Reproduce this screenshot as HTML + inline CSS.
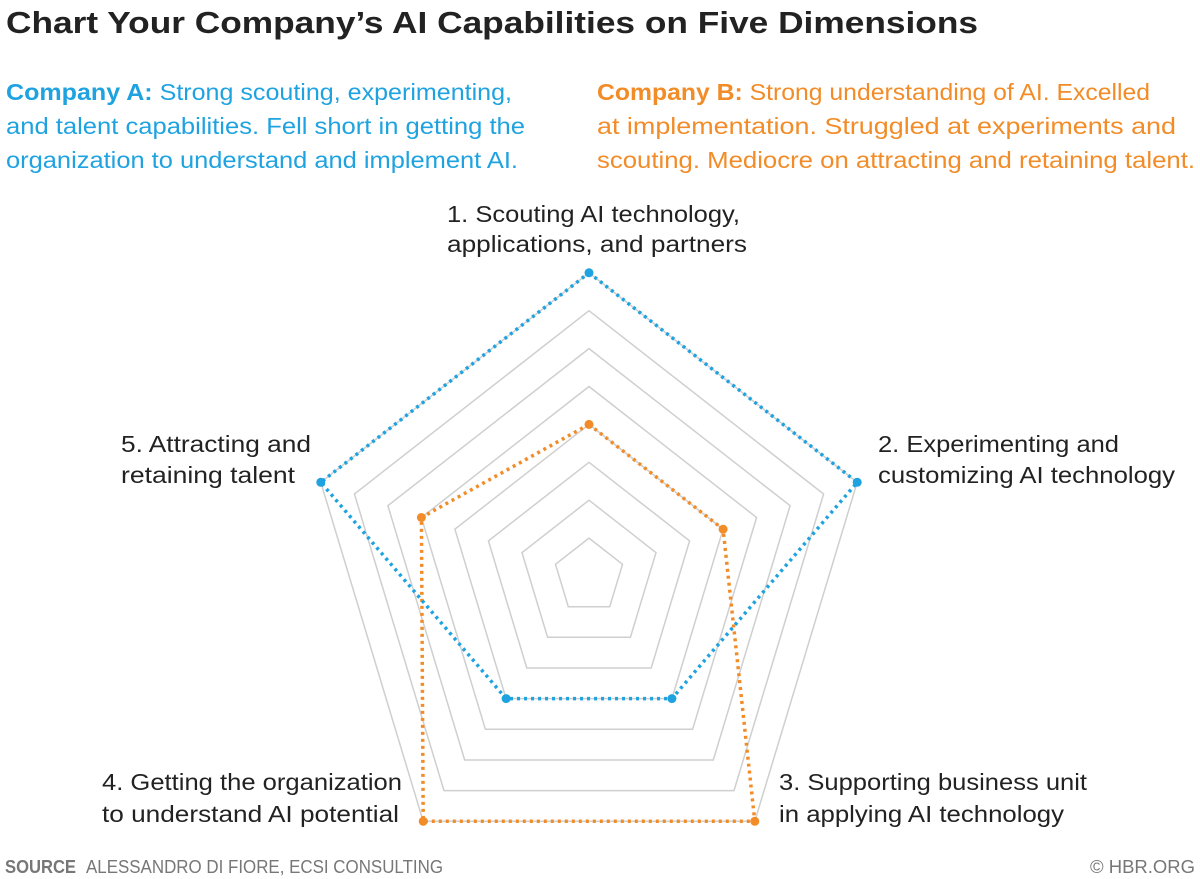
<!DOCTYPE html>
<html><head><meta charset="utf-8"><style>
html,body{margin:0;padding:0;background:#fff;}
svg{display:block;}
text{font-family:"Liberation Sans",sans-serif;}
</style></head><body>
<svg width="1200" height="879" viewBox="0 0 1200 879" xmlns="http://www.w3.org/2000/svg">
<rect width="1200" height="879" fill="#fff"/>
<text x="6" y="33" font-size="31" font-weight="bold" fill="#222" textLength="972" lengthAdjust="spacingAndGlyphs">Chart Your Company’s AI Capabilities on Five Dimensions</text>
<g font-size="23" fill="#1fa3e0">
<text x="6" y="100" textLength="506" lengthAdjust="spacingAndGlyphs"><tspan font-weight="bold">Company A:</tspan> Strong scouting, experimenting,</text>
<text x="6" y="134" textLength="519" lengthAdjust="spacingAndGlyphs">and talent capabilities. Fell short in getting the</text>
<text x="6" y="168" textLength="512" lengthAdjust="spacingAndGlyphs">organization to understand and implement AI.</text>
</g>
<g font-size="23" fill="#f28c28">
<text x="597" y="100" textLength="553" lengthAdjust="spacingAndGlyphs"><tspan font-weight="bold">Company B:</tspan> Strong understanding of AI. Excelled</text>
<text x="597" y="134" textLength="579" lengthAdjust="spacingAndGlyphs">at implementation. Struggled at experiments and</text>
<text x="597" y="168" textLength="598" lengthAdjust="spacingAndGlyphs">scouting. Mediocre on attracting and retaining talent.</text>
</g>
<g fill="none" stroke="#cfcfcf" stroke-width="1.5">
<polygon points="589,538.1 622.5,564.3 609.7,606.7 568.3,606.7 555.5,564.3"/>
<polygon points="589,500.2 656,552.6 630.4,637.3 547.6,637.3 522,552.6"/>
<polygon points="589,462.3 689.6,540.9 651.2,668 526.8,668 488.4,540.9"/>
<polygon points="589,424.4 723.1,529.2 671.9,698.6 506.1,698.6 454.9,529.2"/>
<polygon points="589,386.5 756.6,517.5 692.6,729.3 485.4,729.3 421.4,517.5"/>
<polygon points="589,348.6 790.1,505.7 713.3,760 464.7,760 387.9,505.7"/>
<polygon points="589,310.7 823.6,494 734,790.6 444,790.6 354.4,494"/>
<polygon points="589,272.8 857.2,482.3 754.8,821.3 423.2,821.3 320.8,482.3"/>
</g>
<polygon points="589,424.4 723.1,529.2 754.8,821.3 423.2,821.3 421.4,517.5" fill="none" stroke="#f28c28" stroke-width="3.5" stroke-dasharray="3 4"/>
<polygon points="589,272.8 857.2,482.3 671.9,698.6 506.1,698.6 320.8,482.3" fill="none" stroke="#1fa3e0" stroke-width="3.5" stroke-dasharray="3 4"/>
<g fill="#f28c28">
<circle cx="589" cy="424.4" r="4.5"/><circle cx="723.1" cy="512" r="0" /><circle cx="723.1" cy="511" r="0"/>
<circle cx="723.1" cy="529.2" r="4.5"/><circle cx="754.8" cy="821.3" r="4.5"/><circle cx="423.2" cy="821.3" r="4.5"/><circle cx="421.4" cy="517.5" r="4.5"/>
</g>
<g fill="#1fa3e0">
<circle cx="589" cy="272.8" r="4.5"/><circle cx="857.2" cy="482.3" r="4.5"/><circle cx="671.9" cy="698.6" r="4.5"/><circle cx="506.1" cy="698.6" r="4.5"/><circle cx="320.8" cy="482.3" r="4.5"/>
</g>
<g font-size="23" fill="#222">
<text x="447" y="222" textLength="293" lengthAdjust="spacingAndGlyphs">1. Scouting AI technology,</text>
<text x="447" y="252" textLength="300" lengthAdjust="spacingAndGlyphs">applications, and partners</text>
<text x="878" y="452" textLength="241" lengthAdjust="spacingAndGlyphs">2. Experimenting and</text>
<text x="878" y="483" textLength="297" lengthAdjust="spacingAndGlyphs">customizing AI technology</text>
<text x="121" y="452" textLength="190" lengthAdjust="spacingAndGlyphs">5. Attracting and</text>
<text x="121" y="483" textLength="174" lengthAdjust="spacingAndGlyphs">retaining talent</text>
<text x="102" y="790" textLength="300" lengthAdjust="spacingAndGlyphs">4. Getting the organization</text>
<text x="102" y="822" textLength="297" lengthAdjust="spacingAndGlyphs">to understand AI potential</text>
<text x="779" y="790" textLength="308" lengthAdjust="spacingAndGlyphs">3. Supporting business unit</text>
<text x="779" y="822" textLength="285" lengthAdjust="spacingAndGlyphs">in applying AI technology</text>
</g>
<g font-size="18" fill="#777">
<text x="5" y="873" font-weight="bold" textLength="71" lengthAdjust="spacingAndGlyphs">SOURCE</text>
<text x="86" y="873" textLength="357" lengthAdjust="spacingAndGlyphs">ALESSANDRO DI FIORE, ECSI CONSULTING</text>
<text x="1090" y="873" textLength="105" lengthAdjust="spacingAndGlyphs">© HBR.ORG</text>
</g>
</svg>
</body></html>
